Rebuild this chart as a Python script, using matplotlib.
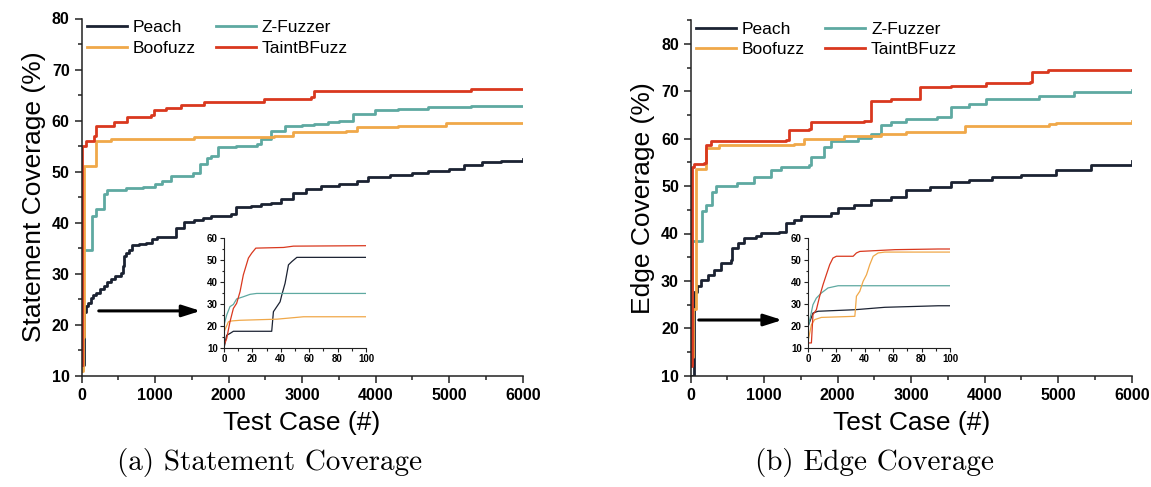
import numpy as np
import matplotlib
matplotlib.use('Agg')
import matplotlib.pyplot as plt
from matplotlib.ticker import MultipleLocator

plt.rcParams['font.family'] = ['Liberation Sans', 'DejaVu Sans']

names = ['Peach', 'Boofuzz', 'Z-Fuzzer', 'TaintBFuzz']
colors = {'Peach': '#1b2232', 'Z-Fuzzer': '#5ea9a1',
          'Boofuzz': '#f0a849', 'TaintBFuzz': '#d9381e'}

# ---- (a) statement coverage, main curves (test case #, %)
stmt_peach_x = [0, 40, 55, 90, 123, 160, 200, 250, 305, 350, 395, 460, 532, 560, 577, 610, 640, 691, 780,
                873, 960, 1032, 1214, 1282, 1400, 1532, 1650, 1759, 2032, 2100, 2300, 2441, 2580, 2714,
                2871, 3050, 3260, 3500, 3745, 3890, 4200, 4500, 4715, 5000, 5200, 5447, 5700, 6000]
stmt_peach_y = [12, 22.5, 23.6, 24.3, 25.2, 25.8, 26.3, 26.9, 27.5, 28.3, 29, 29.5, 30.2, 31.5, 33.4,
                34, 34.6, 35.7, 35.9, 36, 36.8, 37.2, 37.2, 39, 40.1, 40.6, 41, 41.3, 41.6, 43, 43.2,
                43.6, 43.9, 44.6, 45.9, 46.5, 47.2, 47.6, 48.2, 48.9, 49.3, 49.8, 50.2, 50.6, 51.2, 51.8,
                52, 52.4]
stmt_zf_x = [0, 10, 145, 191, 240, 305, 350, 600, 834, 1000, 1100, 1222, 1513, 1610, 1700, 1756, 1853,
             2100, 2387, 2435, 2580, 2774, 3000, 3162, 3350, 3502, 3696, 3987, 4300, 4715, 5300, 6000]
stmt_zf_y = [18, 34.7, 41.3, 42.6, 42.6, 45.6, 46.4, 46.7, 46.9, 47.6, 48.2, 49.2, 49.8, 51.5, 52.6, 53.1,
             54.8, 55.1, 55.4, 56.4, 58, 59, 59.2, 59.4, 59.7, 60, 61.3, 62, 62.3, 62.6, 62.8, 62.9]
stmt_boo_x = [0, 25, 32, 191, 400, 1000, 1532, 2000, 2623, 2874, 3300, 3600, 3745, 4300, 4909, 4957, 6000]
stmt_boo_y = [11, 17.5, 51, 55.9, 56.3, 56.4, 56.7, 56.8, 57, 57.7, 57.8, 58, 58.8, 58.9, 59, 59.5, 59.5]
stmt_taint_x = [0, 9, 55, 168, 191, 441, 623, 941, 986, 1150, 1350, 1668, 2000, 2441, 2486, 3116, 3162,
                4618, 5297, 6000]
stmt_taint_y = [12, 55.1, 56, 57, 59, 59.7, 60.7, 61, 62, 62.4, 63, 63.6, 63.6, 63.7, 64.3, 64.6, 65.7,
                65.7, 66.1, 66.1]

# ---- (a) inset, first 100 test cases
ins_a_peach_x = [0, 1.9, 4.2, 6.6, 33.6, 34.8, 37.2, 39.5, 40.7, 43, 45.4, 47.8, 51.3, 100]
ins_a_peach_y = [10, 15.8, 16.6, 17.6, 17.6, 26.5, 28.8, 31, 34.1, 39.4, 47.8, 49.3, 51.2, 51.2]
ins_a_zf_x = [0, 1.9, 4.2, 6.6, 8.9, 13.6, 18.4, 23, 100]
ins_a_zf_y = [20.4, 25, 28.8, 29.8, 32.3, 33.3, 34.4, 34.8, 34.8]
ins_a_boo_x = [0, 3.1, 5.4, 11.3, 37.2, 56, 100]
ins_a_boo_y = [17.3, 21.9, 22.3, 22.6, 23.1, 24.2, 24.2]
ins_a_taint_x = [0, 1.9, 4.2, 6.6, 8.9, 11.3, 13.6, 17.2, 19.5, 22.4, 41.9, 48.9, 100]
ins_a_taint_y = [11.2, 14.3, 21.9, 28, 30.3, 35.6, 43.2, 50.9, 53.1, 55.4, 55.7, 56.3, 56.5]

# ---- (b) edge coverage, main curves
edge_peach_x = [0, 45, 90, 136, 230, 318, 409, 545, 568, 650, 727, 886, 955, 1205, 1295, 1400, 1500,
                1909, 2000, 2227, 2455, 2727, 2924, 3258, 3544, 3783, 4100, 4498, 4975, 5452, 6000]
edge_peach_y = [10, 27.7, 29, 30.2, 31.3, 32.3, 33.7, 34.4, 36.9, 38, 39, 39.4, 40.1, 40.4, 42.2, 42.9,
                43.6, 44.3, 45.4, 46.1, 47.1, 47.7, 49.2, 49.9, 50.9, 51.3, 51.9, 52.3, 53.4, 54.4, 55.3]
edge_zf_x = [0, 23, 159, 205, 295, 341, 636, 864, 1091, 1227, 1614, 1636, 1818, 1909, 2273, 2455, 2591,
             2727, 2924, 3353, 3544, 3783, 4021, 4737, 5214, 6000]
edge_zf_y = [20, 38.4, 44.7, 46.1, 48.7, 50.1, 50.7, 52, 53.3, 54.1, 54.4, 56.1, 58.2, 59.5, 60.2, 61,
             62.9, 63.5, 64.2, 64.6, 66.7, 67.4, 68.4, 69.1, 69.8, 70.3]
edge_boo_x = [0, 30, 68, 205, 386, 1409, 1545, 2091, 2591, 2924, 3735, 4880, 4975, 6000]
edge_boo_y = [14, 24, 53.6, 58, 58.6, 58.9, 60, 60.5, 60.9, 61.4, 62.6, 63, 63.4, 63.7]
edge_taint_x = [0, 23, 45, 182, 205, 273, 1295, 1341, 1614, 1636, 2364, 2455, 2727, 3019, 3114, 3544,
                4021, 4617, 4641, 4856, 6000]
edge_taint_y = [12, 54, 54.7, 54.8, 58.6, 59.6, 59.8, 61.9, 62.1, 63.5, 63.8, 67.9, 68.3, 68.4, 70.9,
                71.2, 71.7, 71.9, 74, 74.4, 74.5]

# ---- (b) inset
ins_b_peach_x = [0.5, 3.5, 7.1, 33, 54.1, 91.8, 100]
ins_b_peach_y = [20.6, 25.9, 26.7, 27.4, 28.5, 29.2, 29.2]
ins_b_zf_x = [0.5, 3.5, 5.9, 9.4, 14.1, 21.2, 100]
ins_b_zf_y = [20.6, 29.7, 32.7, 35, 37.3, 38.3, 38.3]
ins_b_boo_x = [0.5, 2.4, 4.7, 9.4, 33, 34.1, 36.5, 38.8, 41.2, 43.5, 45.9, 49.4, 54.1, 100]
ins_b_boo_y = [14.5, 20.6, 22.9, 23.9, 24.4, 33.5, 35.8, 40.3, 43.3, 47.9, 51.7, 53.2, 53.6, 53.6]
ins_b_taint_x = [0.5, 2.4, 3.5, 5.9, 8.2, 10.6, 12.9, 15.3, 17.6, 20, 31.8, 34.1, 36.5, 61.2, 91.8, 100]
ins_b_taint_y = [12.3, 12.3, 25.2, 27.4, 33.5, 38.8, 43.3, 47.9, 50.9, 51.7, 51.7, 53.2, 53.9, 54.7, 55, 55]

main_a = {'Peach': (stmt_peach_x, stmt_peach_y), 'Z-Fuzzer': (stmt_zf_x, stmt_zf_y),
          'Boofuzz': (stmt_boo_x, stmt_boo_y), 'TaintBFuzz': (stmt_taint_x, stmt_taint_y)}
inset_a = {'Peach': (ins_a_peach_x, ins_a_peach_y), 'Z-Fuzzer': (ins_a_zf_x, ins_a_zf_y),
           'Boofuzz': (ins_a_boo_x, ins_a_boo_y), 'TaintBFuzz': (ins_a_taint_x, ins_a_taint_y)}
main_b = {'Peach': (edge_peach_x, edge_peach_y), 'Z-Fuzzer': (edge_zf_x, edge_zf_y),
          'Boofuzz': (edge_boo_x, edge_boo_y), 'TaintBFuzz': (edge_taint_x, edge_taint_y)}
inset_b = {'Peach': (ins_b_peach_x, ins_b_peach_y), 'Z-Fuzzer': (ins_b_zf_x, ins_b_zf_y),
           'Boofuzz': (ins_b_boo_x, ins_b_boo_y), 'TaintBFuzz': (ins_b_taint_x, ins_b_taint_y)}


def style_axes(ax, size, lw, major, minor):
    for s in ['top', 'right']:
        ax.spines[s].set_visible(False)
    for s in ['left', 'bottom']:
        ax.spines[s].set_linewidth(lw)
        ax.spines[s].set_color('#222222')
    ax.tick_params(which='major', direction='out', length=major, width=lw, labelsize=size, color='#222222')
    ax.tick_params(which='minor', direction='out', length=minor, width=lw, color='#222222')
    for lab in ax.get_xticklabels() + ax.get_yticklabels():
        lab.set_fontweight('bold')


fig = plt.figure(figsize=(11.51, 4.87), dpi=100)
W, H = 1151, 487

panels = [
    (main_a, inset_a, [81.5, 522.7, 18.5, 375.7], (10, 80), 'Statement Coverage (%)',
     [224, 366, 238, 348], (197, 1657, 22.7), '(a) Statement Coverage', 0.2346),
    (main_b, inset_b, [690.7, 1131.7, 20.2, 375.7], (10, 85), 'Edge Coverage (%)',
     [808, 950, 238, 348], (72, 1283, 21.75), '(b) Edge Coverage', 0.760),
]

for main, inset, box, ylim, ylabel, ibox, arrow, caption, cx in panels:
    x0, x1, y0, y1 = box
    ax = fig.add_axes([x0 / W, 1 - y1 / H, (x1 - x0) / W, (y1 - y0) / H])
    for name in ['Peach', 'Z-Fuzzer', 'Boofuzz', 'TaintBFuzz']:
        xs, ys = main[name]
        ax.plot(xs, ys, drawstyle='steps-post', color=colors[name], lw=2.0, label=name)
    ax.set_xlim(0, 6000)
    ax.set_ylim(*ylim)
    ax.xaxis.set_major_locator(MultipleLocator(1000))
    ax.xaxis.set_minor_locator(MultipleLocator(500))
    ax.yaxis.set_major_locator(MultipleLocator(10))
    ax.yaxis.set_minor_locator(MultipleLocator(5))
    style_axes(ax, 11.5, 1.1, 5, 3)
    ax.set_xlabel('Test Case (#)', fontsize=19, labelpad=6)
    ax.set_ylabel(ylabel, fontsize=19, labelpad=4)
    handles, labels = ax.get_legend_handles_labels()
    order = [labels.index(n) for n in names]
    ax.legend([handles[i] for i in order], [labels[i] for i in order], ncol=2, loc='upper left',
              bbox_to_anchor=(0.012, 0.995), frameon=False, fontsize=12.5, borderpad=0, borderaxespad=0,
              handlelength=2.3, handletextpad=0.35, columnspacing=1.15, labelspacing=0.3)
    ax.annotate('', xy=(arrow[1], arrow[2]), xytext=(arrow[0], arrow[2]),
                arrowprops=dict(arrowstyle='-|>,head_length=1.1,head_width=0.35', color='black', lw=2.2))

    ix0, ix1, iy0, iy1 = ibox
    iax = fig.add_axes([ix0 / W, 1 - iy1 / H, (ix1 - ix0) / W, (iy1 - iy0) / H])
    for name in ['Peach', 'Z-Fuzzer', 'Boofuzz', 'TaintBFuzz']:
        xs, ys = inset[name]
        iax.plot(xs, ys, color=colors[name], lw=0.9)
    iax.set_xlim(0, 100)
    iax.set_ylim(10, 60)
    iax.xaxis.set_major_locator(MultipleLocator(20))
    iax.xaxis.set_minor_locator(MultipleLocator(10))
    iax.yaxis.set_major_locator(MultipleLocator(10))
    iax.yaxis.set_minor_locator(MultipleLocator(5))
    style_axes(iax, 7, 0.8, 3, 1.8)
    iax.tick_params(pad=1.5)

    fig.text(cx, 0.05, caption, fontsize=21, family='cmr10', ha='center', va='center')

fig.savefig('out.png', dpi=100)
